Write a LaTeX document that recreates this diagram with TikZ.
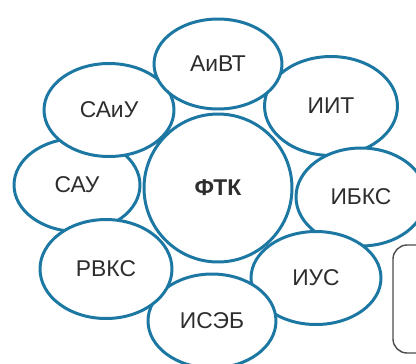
\documentclass[tikz,border=0pt]{standalone}
\usepackage{fontspec}
\setmainfont{Liberation Sans}
\usetikzlibrary{shapes.geometric}
\definecolor{ringblue}{RGB}{28,120,163}
\definecolor{labelgray}{RGB}{45,45,45}

\begin{document}
\begin{tikzpicture}[x=0.02cm, y=-0.02cm,
    dept/.style={draw=ringblue, line width=1.7pt, fill=white, ellipse, inner sep=0pt,
      text=labelgray, font=\fontsize{13}{15}\selectfont},
    core/.style={dept, circle, minimum size=2.96cm, font=\fontsize{13}{15}\selectfont\bfseries}]
    \clip (0,0) rectangle (416,363);
    \fill[white] (0,0) rectangle (416,363);
    \draw[labelgray!85, line width=0.8pt, rounded corners=8pt] (393,245) rectangle (450,353);

    \node[dept, minimum width=2.52cm, minimum height=1.86cm] (sau) at (77,185) {САУ};
    \node[dept, minimum width=2.66cm, minimum height=1.98cm] (iit) at (331,106) {ИИТ};
    \node[dept, minimum width=2.6cm, minimum height=1.96cm] (ibks) at (361,197) {ИБКС};
    \node[dept, minimum width=2.6cm, minimum height=1.86cm] (ius) at (316,278) {ИУС};
    \node[dept, minimum width=2.56cm, minimum height=1.88cm] (iseb) at (212,321) {ИСЭБ};
    \node[dept, minimum width=2.64cm, minimum height=1.98cm] (rvks) at (106,269) {РВКС};
    \node[dept, minimum width=2.6cm, minimum height=1.86cm] (saiu) at (109,110) {САиУ};
    \node[dept, minimum width=2.56cm, minimum height=1.8cm] (aivt) at (218,64) {АиВТ};
    \node[core] (ftk) at (218,188) {ФТК};
\end{tikzpicture}
\end{document}
